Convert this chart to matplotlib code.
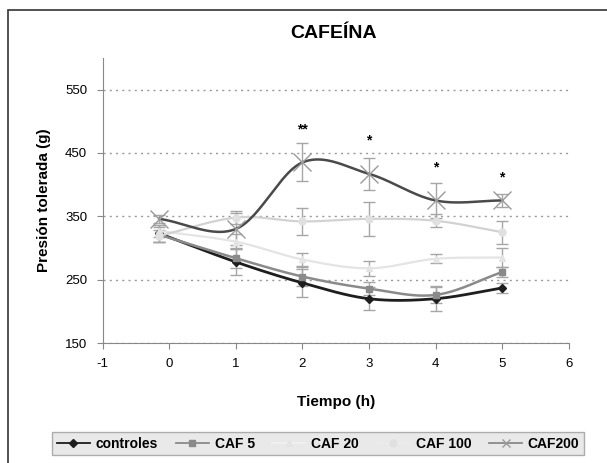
import matplotlib.pyplot as plt
import numpy as np
from matplotlib.patches import Rectangle

plt.rcParams["font.family"] = ["Liberation Sans", "DejaVu Sans"]
plt.rcParams["axes.unicode_minus"] = False

# Measurement times (h); baseline was taken slightly before t=0
tiempo = [-0.15, 1, 2, 3, 4, 5]

controles = [323, 278, 245, 220, 220, 237]
controles_err = [14, 20, 22, 18, 20, 8]
caf5 = [321, 284, 255, 236, 226, 262]
caf5_err = [12, 16, 15, 10, 12, 8]
caf20 = [327, 310, 282, 268, 283, 285]
caf20_err = [10, 12, 10, 12, 7, 15]
caf100 = [319, 348, 342, 346, 343, 325]
caf100_err = [10, 10, 21, 27, 10, 18]
caf200 = [346, 330, 435, 417, 375, 375]
caf200_err = [6, 25, 30, 25, 27, 10]

# significance marks above CAF200
sig_x = [2, 3, 4, 5]
sig_y = [487, 469, 427, 411]
sig_txt = ["**", "*", "*", "*"]


def smooth(xs, ys, n=30):
    """Catmull-Rom curve through the points (spreadsheet-style 'smoothed line')."""
    p = np.column_stack([xs, ys]).astype(float)
    p = np.vstack([p[0] * 2 - p[1], p, p[-1] * 2 - p[-2]])
    out = []
    t = np.linspace(0, 1, n)[:, None]
    for i in range(1, len(p) - 2):
        p0, p1, p2, p3 = p[i - 1], p[i], p[i + 1], p[i + 2]
        seg = 0.5 * ((2 * p1) + (-p0 + p2) * t + (2 * p0 - 5 * p1 + 4 * p2 - p3) * t ** 2
                     + (-p0 + 3 * p1 - 3 * p2 + p3) * t ** 3)
        out.append(seg)
    c = np.vstack(out)
    return c[:, 0], c[:, 1]


series = [
    # label, values, errors, line colour, marker, marker colour, marker size, lw, legend line colour
    ("controles", controles, controles_err, "#1e1e1e", "D", "#1e1e1e", 4.5, 2.0, "#1e1e1e"),
    ("CAF 5", caf5, caf5_err, "#8a8a8a", "s", "#8a8a8a", 5, 1.8, "#8a8a8a"),
    ("CAF 20", caf20, caf20_err, "#e4e4e4", "^", "#e4e4e4", 5, 1.6, "#f0f0f0"),
    ("CAF 100", caf100, caf100_err, "#d2d2d2", "o", "#e0e0e0", 5, 1.6, "#ececec"),
    ("CAF200", caf200, caf200_err, "#4a4a4a", "x", "#9a9a9a", 13, 1.8, "#8a8a8a"),
]

fig = plt.figure(figsize=(6.07, 4.63), dpi=100)
ax = fig.add_axes([0.169, 0.259, 0.768, 0.616])

handles = []
for i, (lab, vals, err, col, mk, mcol, ms, lw, lcol) in enumerate(series):
    ax.errorbar(tiempo, vals, yerr=err, fmt="none", ecolor="#a6a6a6",
                elinewidth=1, capsize=4, capthick=1, zorder=2)
    sx, sy = smooth(tiempo, vals)
    ax.plot(sx, sy, color=col, lw=lw, zorder=3 + i)
    ax.plot(tiempo, vals, ls="none", marker=mk, ms=ms, color=mcol,
            mec=mcol, mew=1.0, zorder=3 + i)
    h, = ax.plot([], [], color=lcol, lw=1.3, marker=mk, ms=min(ms, 6),
                 mfc=mcol, mec=mcol, label=lab)
    handles.append(h)

for x, y, s in zip(sig_x, sig_y, sig_txt):
    ax.text(x, y, s, ha="center", va="center", fontsize=10, fontweight="bold")

ax.set_xlim(-1, 6)
ax.set_ylim(150, 600)
ax.set_xticks(range(-1, 7))
ax.set_yticks([150, 250, 350, 450, 550])
ax.tick_params(labelsize=9.5, length=4, color="#888888", pad=7)
ax.yaxis.grid(True, ls=(0, (1.5, 3)), color="#9a9a9a", lw=1)
ax.set_axisbelow(True)
for s in ["top", "right"]:
    ax.spines[s].set_visible(False)
for s in ["left", "bottom"]:
    ax.spines[s].set_color("#888888")

ax.set_xlabel("Tiempo (h)", fontsize=11, fontweight="bold", labelpad=18)
ax.set_ylabel("Presión tolerada (g)", fontsize=11, fontweight="bold", labelpad=10)
fig.text(0.55, 0.928, "CAFEÍNA", ha="center", va="center", fontsize=14, fontweight="bold")

leg = fig.legend(handles=handles, loc="center", ncol=5, mode="expand",
                 bbox_to_anchor=(0.074, 0.013, 0.90, 0.058),
                 prop={"weight": "bold", "size": 10}, frameon=True, fancybox=False,
                 handlelength=2.4, handletextpad=0.4, borderpad=0.35)
leg.get_frame().set_facecolor("#e4e4e4")
leg.get_frame().set_edgecolor("#9a9a9a")

# outer frame around the whole chart
fig.patches.append(Rectangle((8 / 607, -0.05), 1.1, (463 - 10) / 463 + 0.05,
                             transform=fig.transFigure, fill=False,
                             edgecolor="#333333", lw=1.2))

fig.savefig("out.png", dpi=100)
